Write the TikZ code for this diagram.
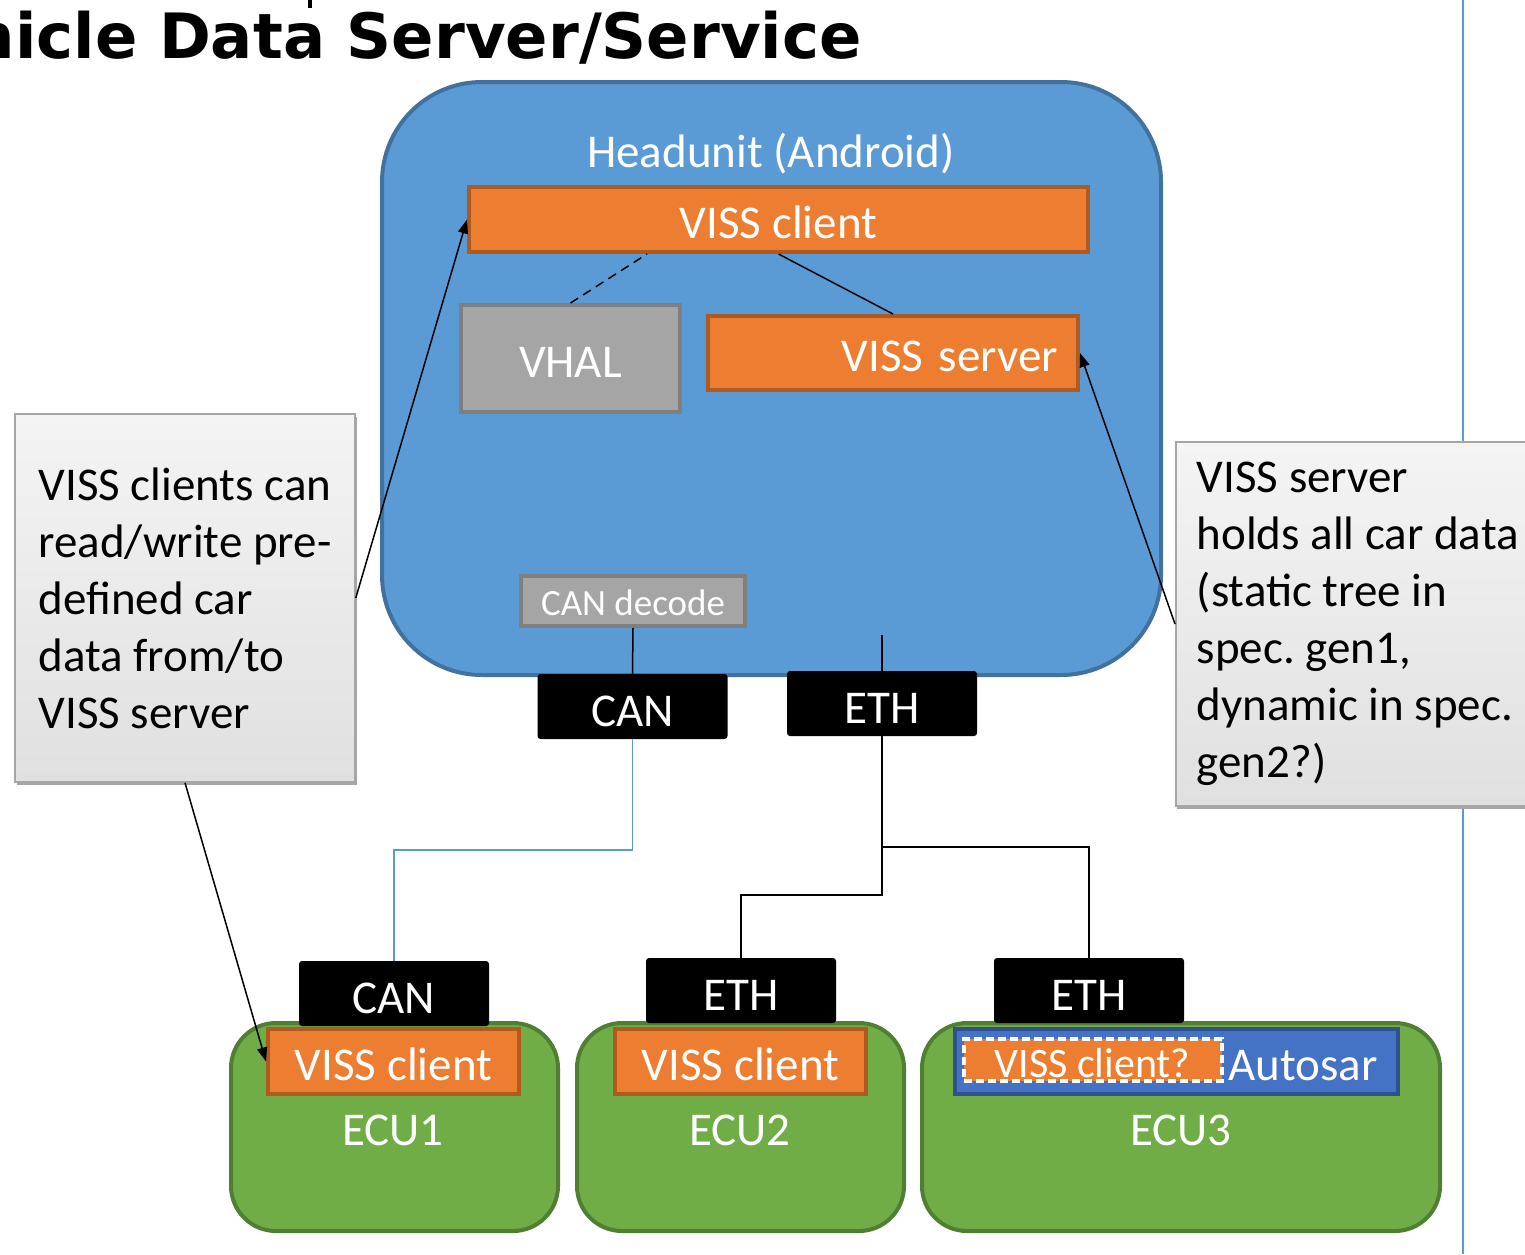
\documentclass[tikz,border=0pt]{standalone}
\usepackage{fontspec}
\setmainfont{Carlito}
\newfontfamily\titlefont{DejaVu Sans}
\usetikzlibrary{arrows.meta,calc,shadows}
\frenchspacing
\definecolor{hufill}{HTML}{5B9BD5}
\definecolor{hudraw}{HTML}{41719C}
\definecolor{orfill}{HTML}{ED7D31}
\definecolor{ordraw}{HTML}{AE5A21}
\definecolor{grfill}{HTML}{A5A5A5}
\definecolor{grdraw}{HTML}{7F7F7F}
\definecolor{ecufill}{HTML}{70AD47}
\definecolor{ecudraw}{HTML}{507E32}
\definecolor{asfill}{HTML}{4472C4}
\definecolor{asdraw}{HTML}{2F528F}
\definecolor{notetop}{HTML}{F4F4F4}
\definecolor{notebot}{HTML}{E0E0E0}
\definecolor{notedraw}{HTML}{A6A6A6}
\begin{document}
\begin{tikzpicture}[x=1pt,y=-1pt,
  txt/.style={font=\fontsize{47}{57}\selectfont},
  orbox/.style={txt, fill=orfill, draw=ordraw, line width=4pt, text=white, inner sep=0pt, text height=37pt, text depth=0pt},
  graybox/.style={txt, fill=grfill, draw=grdraw, line width=4pt, text=white, inner sep=0pt, text height=37pt, text depth=0pt},
  busbox/.style={txt, fill=black, rounded corners=3pt, text=white, inner sep=0pt, minimum width=190pt, minimum height=65pt, text height=39pt, text depth=0pt},
  ecubox/.style={fill=ecufill, draw=ecudraw, line width=4pt, rounded corners=45pt, inner sep=0pt, minimum height=208pt},
  lbl/.style={txt, text=white, inner sep=0pt, anchor=base},
  notebox/.style={txt, top color=notetop, bottom color=notebot, draw=notedraw, line width=1.5pt, align=left, inner ysep=0pt,
     general shadow={fill=black!35, shadow xshift=1.5pt, shadow yshift=-3pt}},
  conn/.style={line width=1.5pt, black},
  arr/.style={conn, -{Triangle[length=14pt,width=10pt]}},
]
\useasboundingbox (0,0) rectangle (1525,1254);
\clip (0,0) rectangle (1525,1254);
\fill[white] (0,0) rectangle (1525,1254);

% title
\node[anchor=base east, inner sep=0pt, font=\titlefont\bfseries\fontsize{62.5}{70}\selectfont] (title) at (862,58) {Vehicle Data Server/Service};
\fill (308,0) rectangle (312,8);

% right vertical line
\draw[hufill, line width=2pt] (1463,0) -- (1463,1254);

% headunit
\node[fill=hufill, draw=hudraw, line width=4pt, rounded corners=100pt, minimum width=779pt, minimum height=593pt, inner sep=0pt] (hu) at (771.5,378.5) {};
\node[lbl] (hulbl) at (771,167) {Headunit (Android)};

\node[orbox, minimum width=619pt, minimum height=65pt] (vc) at (778.5,219.5) {VISS client};
\node[graybox, minimum width=219pt, minimum height=107pt] (vhal) at (570.5,358.5) {VHAL};
\node[orbox, text width=330pt, align=right, inner xsep=20pt, minimum height=74pt] (vs) at (893,353) {VISS server};
\node[graybox, line width=3.5pt, font=\fontsize{37}{44}\selectfont, minimum width=224pt, minimum height=50pt, text height=28pt] (cd) at (633,601) {CAN decode};

% bus boxes
\node[busbox] (can1) at (632.5,706.5) {CAN};
\node[busbox] (eth1) at (882,703.5) {ETH};
\coordinate (ethin) at (882,635);

% ECUs
\node[ecubox, minimum width=327pt] (ecu1) at (394.5,1127) {};
\node[ecubox, minimum width=327pt] (ecu2) at (740.5,1127) {};
\node[ecubox, minimum width=518pt] (ecu3) at (1181,1127) {};

\node[busbox] (can2) at (394,993.5) {CAN};
\node[busbox] (eth2) at (741,990.5) {ETH};
\node[busbox] (eth3) at (1089,990.5) {ETH};

\node[orbox, minimum width=251pt, minimum height=65pt] (c1) at (393.5,1061.5) {VISS client};
\node[orbox, minimum width=251pt, minimum height=65pt] (c2) at (740.5,1061.5) {VISS client};
\node[fill=asfill, draw=asdraw, line width=4pt, minimum width=443pt, minimum height=65pt, inner sep=0pt] (as) at (1176.5,1061.5) {};
\node[lbl] (aslbl) at (1303,1080) {Autosar};
\node[fill=orfill, draw=white, line width=3.5pt, dash pattern=on 8pt off 4pt, minimum width=258pt, minimum height=42pt, inner sep=0pt] (c3) at (1093,1060) {};
\node[lbl, font=\fontsize{42}{50}\selectfont] (c3lbl) at (1092.5,1077) {VISS client?};

\node[lbl] (e1lbl) at (393,1145) {ECU1};
\node[lbl] (e2lbl) at (740,1145) {ECU2};
\node[lbl] (e3lbl) at (1181,1145) {ECU3};

% connectors inside headunit
\draw[conn, dash pattern=on 9pt off 6pt] (vhal.north) -- ($(vc.south west)+(180,0)$);
\draw[conn] (vc.south) -- (vs.north);
\draw[conn] (cd.south) -- (can1.north);
\draw[conn] (ethin) -- (eth1.north);

% buses
\draw[hufill, line width=1.5pt] (can1.south) -- ++(0,111) -| (can2.north);
\coordinate (br) at (882,847);
\draw[conn] (eth1.south) -- ++(0,159) -| (eth2.north);
\draw[conn] (br) -| (eth3.north);

% notes
\node[notebox, inner xsep=20pt, minimum width=340pt, minimum height=368pt] (ln) at (185,598) {VISS clients can\\read/write pre-\\defined car\\data from/to\\VISS server};
\node[notebox, inner xsep=21pt, minimum height=364pt, anchor=west] (rn) at (1175,624) {VISS server\\holds all car data\\(static tree in\\spec. gen1,\\dynamic in spec.\\gen2?)};

% arrows
\draw[arr] (ln.east) -- (vc.west);
\draw[arr] (ln.south) -- (c1.west);
\draw[arr] (rn.west) -- (vs.east);
\end{tikzpicture}
\end{document}
